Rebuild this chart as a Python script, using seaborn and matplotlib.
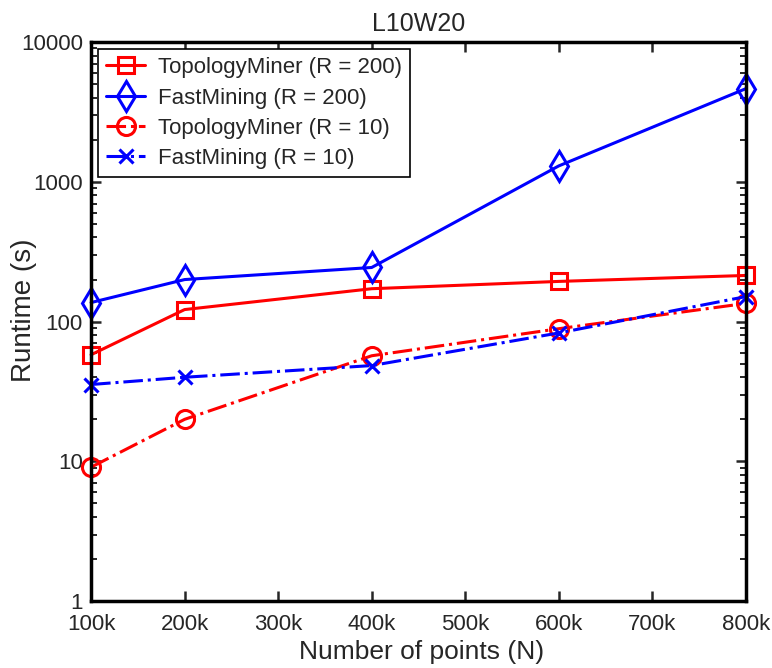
import matplotlib
matplotlib.use("Agg")
import matplotlib.pyplot as plt
import seaborn as sns
import pandas as pd
from matplotlib.ticker import FixedLocator, LogLocator, NullFormatter

sns.set_style("ticks")
plt.rcParams['font.family'] = ['Liberation Sans', 'DejaVu Sans']

x_points = [100, 200, 400, 600, 800]  # thousands
tm_200 = [58, 122, 172, 194, 214]
fm_200 = [137, 200, 244, 1300, 4640]
tm_10 = [9.1, 20, 57, 89, 135]
fm_10 = [35.5, 40, 48.5, 83, 151]

x_ticks = [100, 200, 300, 400, 500, 600, 700, 800]
x_tick_labels = ["100k", "200k", "300k", "400k", "500k", "600k", "700k", "800k"]
y_ticks = [1, 10, 100, 1000, 10000]
y_tick_labels = ["1", "10", "100", "1000", "10000"]

series = [
    ("TopologyMiner (R = 200)", tm_200, "red", "s", "-", 11),
    ("FastMining (R = 200)", fm_200, "blue", "d", "-", 15),
    ("TopologyMiner (R = 10)", tm_10, "red", "o", "-.", 13),
    ("FastMining (R = 10)", fm_10, "blue", "x", "-.", 9.5),
]

fig = plt.figure(figsize=(7.72, 6.68), dpi=100)
ax = fig.add_axes([0.118, 0.100, 0.848, 0.837])

for name, vals, color, marker, ls, ms in series:
    df = pd.DataFrame({"x": x_points, "y": vals})
    sns.lineplot(data=df, x="x", y="y", ax=ax, color=color, linestyle=ls,
                 linewidth=2.2, marker=marker, markersize=ms,
                 markerfacecolor="none", markeredgecolor=color, markeredgewidth=2.2,
                 label=name, clip_on=False)

ax.set_yscale("log")
ax.set_xlim(100, 800)
ax.set_ylim(1, 10000)
ax.xaxis.set_major_locator(FixedLocator(x_ticks))
ax.set_xticklabels(x_tick_labels)
ax.yaxis.set_major_locator(FixedLocator(y_ticks))
ax.set_yticklabels(y_tick_labels)
ax.yaxis.set_minor_locator(LogLocator(base=10, subs=range(2, 10)))
ax.yaxis.set_minor_formatter(NullFormatter())

ax.tick_params(axis="x", which="major", direction="in", length=7, width=1.8,
               top=True, labelsize=16, pad=9)
ax.tick_params(axis="y", which="major", direction="in", length=7, width=1.8,
               right=True, labelsize=16, pad=6)
ax.tick_params(axis="y", which="minor", direction="in", length=4, width=1.4,
               right=True, left=True)
for s in ax.spines.values():
    s.set_linewidth(2.5)
    s.set_color("black")

ax.set_xlabel("Number of points (N)", fontsize=19)
ax.set_ylabel("Runtime (s)", fontsize=20)
ax.xaxis.set_label_coords(0.505, -0.070)
ax.yaxis.set_label_coords(-0.083, 0.52)
ax.set_title("L10W20", fontsize=18, pad=8)

leg = ax.legend(loc="upper left", fontsize=16, frameon=True, fancybox=False,
                edgecolor="black", handlelength=1.75, borderpad=0.35,
                labelspacing=0.42, handletextpad=0.6, borderaxespad=0.33)
leg.get_frame().set_linewidth(1.2)
leg.get_frame().set_alpha(1.0)

fig.savefig("out.png", dpi=100)
